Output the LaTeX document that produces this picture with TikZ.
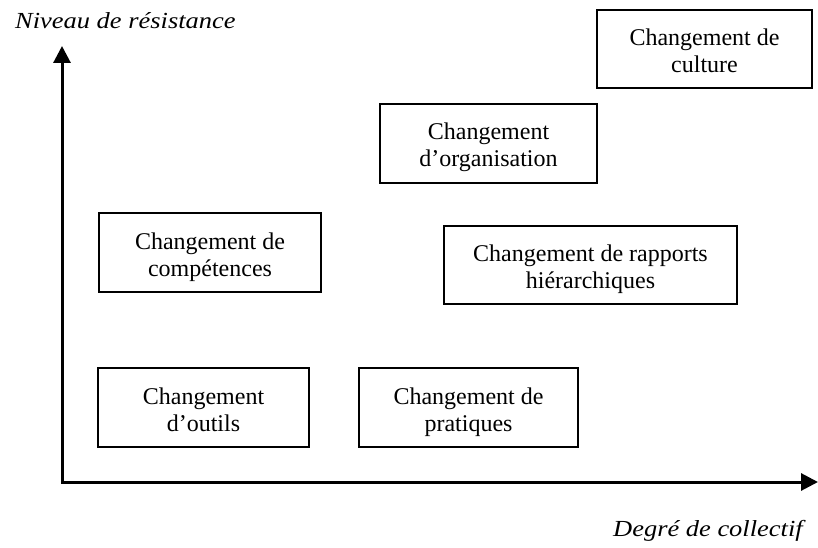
\documentclass[tikz,border=0pt]{standalone}
\usepackage{fontspec}
\setmainfont{Liberation Serif}
\usetikzlibrary{arrows.meta}
\begin{document}
\begin{tikzpicture}[x=1pt,y=-1pt,
  changebox/.style={draw=black,line width=2pt,rectangle,inner sep=0pt,
    align=center,font=\fontsize{24}{27}\selectfont,text height=47pt,text depth=0pt},
  axisline/.style={line width=3pt,line join=miter,
    {Triangle[width=17pt,length=17pt]}-{Triangle[width=17pt,length=17pt]}},
  axislabel/.style={inner sep=0pt,font=\fontsize{23}{27}\selectfont\itshape}]
\useasboundingbox[fill=white] (0,0) rectangle (818,548);
% axes
\coordinate (ytip) at (62,46);
\coordinate (origin) at (62,482);
\coordinate (xtip) at (818,482);
\draw[axisline] (ytip) -- (origin) -- (xtip);
% axis labels
\node[axislabel,anchor=base west] (ylab) at (15,29) {\scalebox{1.15}[1]{Niveau de résistance}};
\node[axislabel,anchor=base west] (xlab) at (613,536) {\scalebox{1.15}[1]{Degré de collectif}};
% boxes
\node[changebox,minimum width=215pt,minimum height=78pt] (culture) at (704.5,49) {Changement de\\culture};
\node[changebox,minimum width=217pt,minimum height=79pt] (organisation) at (488.5,143.5) {Changement\\d’organisation};
\node[changebox,minimum width=222pt,minimum height=79pt] (competences) at (210,252.5) {Changement de\\compétences};
\node[changebox,minimum width=293pt,minimum height=78pt] (rapports) at (590.5,265) {Changement de rapports\\hiérarchiques};
\node[changebox,minimum width=211pt,minimum height=79pt] (outils) at (203.5,407.5) {Changement\\d’outils};
\node[changebox,minimum width=219pt,minimum height=79pt] (pratiques) at (468.5,407.5) {Changement de\\pratiques};
\end{tikzpicture}
\end{document}
